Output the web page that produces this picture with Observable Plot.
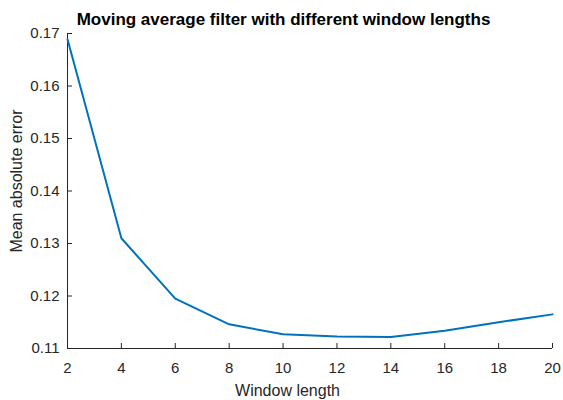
<!DOCTYPE html>
<html>
<head>
<meta charset="utf-8">
<script src="https://cdn.jsdelivr.net/npm/d3@7"></script>
<script src="https://cdn.jsdelivr.net/npm/@observablehq/plot@0.6"></script>
<style>
  html, body { margin: 0; padding: 0; background: #fff; }
</style>
</head>
<body>
<div id="chart"></div>
<script>
const windowLengths = [2, 4, 6, 8, 10, 12, 14, 16, 18, 20];
const meanAbsError = [0.1689, 0.1310, 0.1195, 0.1146, 0.1127, 0.1123, 0.1122, 0.1134, 0.1150, 0.1165];
const xTicks = [2, 4, 6, 8, 10, 12, 14, 16, 18, 20];
const yTicks = [0.11, 0.12, 0.13, 0.14, 0.15, 0.16, 0.17];
const titleText = "Moving average filter with different window lengths";
const xLabel = "Window length";
const yLabel = "Mean absolute error";

const data = windowLengths.map((w, i) => ({w, e: meanAbsError[i]}));
const ink = "#262626";
const W = 563, H = 400, mL = 67, mR = 11, mT = 33, mB = 52;
const frameW = W - mL - mR, frameH = H - mT - mB, tickLen = 5;

const chart = Plot.plot({
  width: W,
  height: H,
  marginLeft: mL,
  marginRight: mR,
  marginTop: mT,
  marginBottom: mB,
  style: {fontFamily: "Liberation Sans, Arial, sans-serif", fontSize: "15px", color: ink, background: "#fff"},
  x: {domain: [2, 20], label: null},
  y: {domain: [0.11, 0.17], label: null},
  marks: [
    Plot.axisX({ticks: xTicks, tickSize: 0, tickPadding: 14, tickFormat: d => String(d), fontSize: 15, fill: ink, label: null}),
    Plot.axisY({ticks: yTicks, tickSize: 0, tickPadding: 8, tickFormat: d => d.toFixed(2), fontSize: 15, fill: ink, label: null}),
    Plot.tickX(xTicks, {x: d => d, insetTop: frameH - tickLen, stroke: ink, strokeWidth: 1}),
    Plot.tickY(yTicks, {y: d => d, insetRight: frameW - tickLen, stroke: ink, strokeWidth: 1}),
    Plot.ruleY([0.11], {stroke: ink, strokeWidth: 1}),
    Plot.ruleX([2], {stroke: ink, strokeWidth: 1}),
    Plot.line(data, {x: "w", y: "e", stroke: "#0072BD", strokeWidth: 2}),
    Plot.text([titleText], {frameAnchor: "top-left", text: d => d, dx: 216, dy: -14, textAnchor: "middle", lineAnchor: "middle", fontWeight: "bold", fontSize: 17, fill: "#000"}),
    Plot.text([xLabel], {frameAnchor: "bottom-left", text: d => d, dx: 220, dy: 42, textAnchor: "middle", lineAnchor: "middle", fontSize: 16, fill: ink}),
    Plot.text([yLabel], {frameAnchor: "left", text: d => d, dx: -51, dy: -10, rotate: -90, textAnchor: "middle", lineAnchor: "middle", fontSize: 16, fill: ink})
  ]
});
document.getElementById("chart").appendChild(chart);
</script>
</body>
</html>
